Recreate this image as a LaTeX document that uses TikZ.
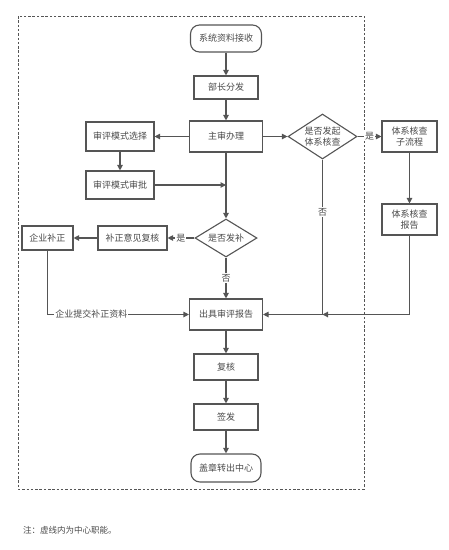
\documentclass[tikz,border=0pt]{standalone}
\usepackage{fontspec}
\setmainfont{Noto Sans CJK SC}
\usetikzlibrary{shapes.geometric,arrows.meta}
\definecolor{linec}{HTML}{555555}
\definecolor{textc}{HTML}{4A4A4A}
\begin{document}
\begin{tikzpicture}[x=1pt,y=-1pt,
  box/.style={draw=linec, line width=1.1pt, fill=white, font=\fontsize{9}{11}\selectfont, text=textc, inner sep=0pt, align=center},
  term/.style={box, rounded corners=9pt},
  dia/.style={box, diamond, aspect=1.5},
  arr/.style={draw=linec, line width=1.1pt, -{Triangle[length=5.5pt,width=5.5pt]}},
  ln/.style={draw=linec, line width=1.1pt},
  lab/.style={fill=white, inner sep=1pt, font=\fontsize{9}{11}\selectfont, text=textc}]
\useasboundingbox (0,0) rectangle (449,550);
\draw[linec, line width=0.7pt, dash pattern=on 2.5pt off 1.8pt] (18,16) rectangle (364,489);
\node[term, minimum width=71pt, minimum height=27pt] (n1) at (226,38.5) {系统资料接收};
\node[box, minimum width=64pt, minimum height=23pt] (n2) at (226,87.5) {部长分发};
\node[box, minimum width=73pt, minimum height=31pt] (n3) at (226,136.5) {主审办理};
\node[box, minimum width=68pt, minimum height=29pt] (n4) at (120,136.5) {审评模式选择};
\node[box, minimum width=68pt, minimum height=28pt] (n5) at (120,185) {审评模式审批};
\node[dia, minimum width=69pt, minimum height=45pt] (d1) at (322.5,136.5) {是否发起\\体系核查};
\node[box, minimum width=55pt, minimum height=31pt] (n6) at (409.5,136.5) {体系核查\\子流程};
\node[box, minimum width=55pt, minimum height=31pt] (n7) at (409.5,219.5) {体系核查\\报告};
\node[dia, minimum width=62pt, minimum height=38pt] (d2) at (226,238) {是否发补};
\node[box, minimum width=69pt, minimum height=24pt] (n8) at (132.5,238) {补正意见复核};
\node[box, minimum width=51pt, minimum height=24pt] (n9) at (47.5,238) {企业补正};
\node[box, minimum width=73pt, minimum height=31pt] (n10) at (226,314.5) {出具审评报告};
\node[box, minimum width=64pt, minimum height=26pt] (n11) at (226,367) {复核};
\node[box, minimum width=64pt, minimum height=26pt] (n12) at (226,417) {签发};
\node[term, minimum width=70pt, minimum height=28pt] (n13) at (226,468) {盖章转出中心};
\node[anchor=west, font=\fontsize{8.5}{10}\selectfont, text=textc, inner sep=0pt] (note) at (23,530) {注：虚线内为中心职能。};
\coordinate (j1) at (n3.south |- n5.east);
\coordinate (j2) at (d1.south |- n10.east);
\coordinate (c1) at (n7.south |- n10.east);
\coordinate (c2) at (n9.south |- n10.west);
\draw[arr] (n1) -- (n2);
\draw[arr] (n2) -- (n3);
\draw[arr] (n3) -- (n4);
\draw[arr] (n4) -- (n5);
\draw[arr] (n3) -- (d2);
\draw[arr] (n5) -- (j1);
\draw[arr] (n3) -- (d1);
\draw[arr] (d1) -- node[lab]{是} (n6);
\draw[ln] (d1.south) -- node[lab, pos=0.34]{否} (j2);
\draw[arr] (j2) -- (n10);
\draw[arr] (n6) -- (n7);
\draw[arr] (n7.south) -- (c1) -- (j2);
\draw[arr] (d2) -- node[lab]{是} (n8);
\draw[arr] (n8) -- (n9);
\draw[arr] (d2) -- node[lab]{否} (n10);
\draw[arr] (n9.south) -- (c2) -- node[lab, pos=0.31]{企业提交补正资料} (n10.west);
\draw[arr] (n10) -- (n11);
\draw[arr] (n11) -- (n12);
\draw[arr] (n12) -- (n13);
\end{tikzpicture}
\end{document}
